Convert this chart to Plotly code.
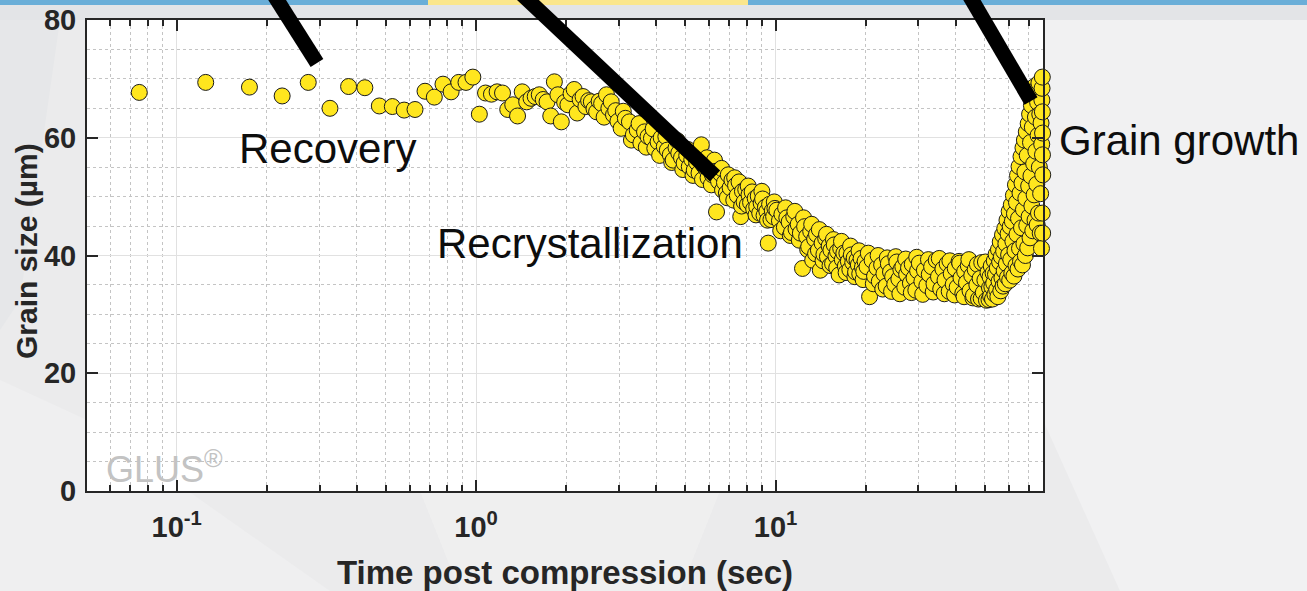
import plotly.graph_objects as go

# ---------------- data ----------------
time_recovery = [0.075, 0.125, 0.175, 0.225, 0.275, 0.325, 0.375, 0.425, 0.475, 0.525,
                 0.575, 0.625, 0.675, 0.725, 0.775, 0.825, 0.875, 0.925, 0.975]
size_recovery = [67.7, 69.4, 68.6, 67.1, 69.4, 65.0, 68.7, 68.5, 65.4, 65.3,
                 64.7, 64.8, 67.9, 66.9, 69.1, 67.8, 69.4, 69.4, 70.3]

time_early = [1.025, 1.075, 1.125, 1.175, 1.225, 1.275, 1.325, 1.375, 1.425, 1.475,
              1.525, 1.575, 1.625, 1.675, 1.725, 1.775, 1.825, 1.875, 1.925, 1.975,
              2.025, 2.075, 2.125, 2.175, 2.225, 2.275, 2.325, 2.375, 2.425, 2.475,
              2.525, 2.575, 2.625, 2.675, 2.725, 2.775, 2.825, 2.875, 2.925, 2.975]
size_early = [64.0, 67.6, 67.4, 67.8, 67.6, 64.8, 65.6, 63.7, 67.8, 66.1,
              66.7, 67.0, 67.3, 66.5, 66.1, 63.7, 69.5, 67.3, 62.7, 66.0,
              65.6, 67.5, 68.2, 64.2, 66.5, 67.0, 65.3, 66.3, 66.1, 64.9,
              64.4, 66.2, 65.8, 63.5, 67.3, 65.0, 66.1, 63.9, 64.6, 62.8]

time_recryst = [3.05, 3.15, 3.25, 3.35, 3.45, 3.55, 3.65, 3.75, 3.85, 3.95,
                4.05, 4.15, 4.25, 4.35, 4.45, 4.55, 4.65, 4.75, 4.85, 4.95,
                5.05, 5.15, 5.25, 5.35, 5.45, 5.55, 5.65, 5.75, 5.85, 5.95,
                6.05, 6.15, 6.25, 6.35, 6.45,
                6.55, 6.65, 6.75, 6.85, 6.95, 7.05, 7.15, 7.25, 7.35, 7.45,
                7.55, 7.65, 7.75, 7.85, 7.95, 8.05, 8.15, 8.25, 8.35, 8.45,
                8.55, 8.65, 8.75, 8.85, 8.95, 9.05, 9.15, 9.25, 9.35, 9.45,
                9.55, 9.65, 9.75, 9.85, 9.95,
                10.1, 10.3, 10.5, 10.7, 10.9, 11.1, 11.3, 11.5, 11.7, 11.9,
                12.1, 12.3, 12.5, 12.7, 12.9, 13.1, 13.3, 13.5, 13.7, 13.9,
                14.1, 14.3, 14.5, 14.7, 14.9, 15.1, 15.3, 15.5, 15.7, 15.9,
                16.1, 16.3, 16.5, 16.7, 16.9, 17.1, 17.3, 17.5, 17.7, 17.9,
                18.1, 18.3, 18.5, 18.7, 18.9, 19.1, 19.3, 19.5, 19.7, 19.9]
size_recryst = [61.6, 63.3, 62.7, 60.5, 61.3, 59.1, 61.0, 60.2, 59.9, 58.2,
                59.3, 60.0, 58.5, 57.9, 57.1, 56.2, 58.3, 57.4, 56.6, 55.7,
                57.0, 55.1, 56.3, 54.5, 55.8, 54.0, 58.8, 55.3, 54.8, 53.2,
                55.0, 53.7, 56.2, 47.4, 52.6,
                53.9, 51.1, 52.4, 50.6, 53.7, 51.5, 52.8, 49.4, 51.9, 50.2,
                52.5, 46.6, 50.9, 49.1, 51.2, 48.6, 50.3, 49.0, 50.8, 47.9,
                49.7, 48.3, 50.1, 47.2, 48.9, 49.6, 46.8, 48.2, 47.5, 42.1,
                48.7, 46.1, 47.6, 46.6, 48.0,
                47.7, 45.9, 47.0, 44.8, 46.4, 45.7, 43.9, 46.6, 44.5, 45.3,
                43.8, 37.8, 44.9, 43.2, 41.5, 44.1, 39.2, 42.8, 43.6, 40.9,
                37.5, 42.1, 40.2, 42.9, 39.8, 41.6, 40.9, 38.6, 41.8, 39.9,
                40.7, 36.7, 41.2, 39.3, 40.4, 38.2, 40.4, 39.0, 37.6, 40.1,
                38.8, 39.6, 37.2, 39.2, 38.4, 36.9, 39.5, 38.0, 37.3, 39.0]

# extra readings along the upper / lower edges of the dense band
time_dense = [3.1, 3.3, 3.5, 3.7, 3.9, 4.1, 4.3, 4.5, 4.7, 4.9, 5.1, 5.3, 5.5, 5.7, 5.9, 6.1, 6.3,
              6.6, 6.9, 7.3, 7.7, 8.1, 8.6, 9.0, 9.4, 9.9, 10.4,
              10.8, 11.2, 11.6, 12.0, 12.4, 12.8, 13.2, 13.6, 14.0, 14.4,
              14.8, 15.2, 15.6, 16.0, 16.6, 17.2, 17.8, 18.4, 19.0, 19.6,
              20.4, 21.2, 22.0, 22.8, 23.6, 24.4, 25.2, 26.0, 27.2, 28.4,
              29.6, 31.0, 32.4, 33.6, 35.2, 36.6, 38.2, 39.6, 41.2, 42.6,
              44.2, 45.6, 47.2, 48.6, 50.2, 51.6]
size_dense = [64.5, 59.6, 62.4, 58.4, 61.5, 57.0, 60.2, 55.8, 59.5, 54.6, 58.0, 53.6, 57.3, 52.9, 56.6, 52.0, 54.3,
              54.8, 49.8, 53.2, 48.4, 51.8, 46.9, 50.9, 46.0, 49.1, 44.2,
              48.1, 43.4, 47.5, 42.6, 46.4, 41.0, 45.3, 40.3, 44.4, 39.1,
              43.6, 38.3, 42.7, 37.9, 42.4, 37.1, 41.6, 36.4, 40.8, 35.9,
              40.4, 35.2, 40.0, 34.3, 39.6, 33.9, 39.8, 33.5, 39.4, 33.7,
              39.7, 33.4, 39.3, 33.8, 39.5, 33.5, 39.1, 33.3, 38.7, 33.0,
              39.3, 32.8, 38.5, 32.7, 38.9, 32.5]

time_plateau = [20.2, 20.6, 21.0, 21.4, 21.8, 22.2, 22.6, 23.0, 23.4, 23.8,
                24.2, 24.6, 25.0, 25.4, 25.8, 26.2, 26.6, 27.0, 27.4, 27.8,
                28.2, 28.6, 29.0, 29.4, 29.8,
                30.2, 30.8, 31.4, 32.0, 32.6, 33.2, 33.8, 34.4, 35.0, 35.6,
                36.2, 36.8, 37.4, 38.0, 38.6, 39.2, 39.8, 40.4, 41.0, 41.6,
                42.2, 42.8, 43.4, 44.0, 44.6, 45.2, 45.8, 46.4, 47.0, 47.6,
                48.2, 48.8, 49.4, 50.0, 50.6, 51.2, 51.8]
size_plateau = [38.1, 33.0, 39.2, 36.5, 37.9, 35.6, 38.4, 36.9, 34.8, 38.6,
                37.2, 36.4, 35.1, 38.9, 36.0, 37.6, 38.1, 34.6, 36.8, 37.9,
                35.3, 38.5, 36.2, 34.1, 37.4,
                38.7, 35.6, 37.5, 34.9, 36.8, 38.1, 35.2, 39.2, 36.4, 34.3,
                37.7, 35.8, 38.6, 33.9, 36.9, 35.1, 37.8, 34.6, 39.0, 36.2,
                33.6, 37.3, 35.4, 38.3, 34.0, 36.6, 33.2, 37.6, 35.0, 32.6,
                36.1, 38.8, 33.7, 35.8, 32.4, 37.1, 34.5]

time_growth = [52.0, 52.25, 52.5, 52.75, 53.0, 53.25, 53.5, 53.75, 54.0, 54.25,
               54.5, 54.75, 55.0, 55.25, 55.5, 55.75, 56.0, 56.25, 56.5, 56.75,
               57.0, 57.25, 57.5, 57.75, 58.0, 58.25, 58.5, 58.75, 59.0, 59.25,
               59.5, 59.75, 60.0, 60.25, 60.5, 60.75, 61.0, 61.25, 61.5, 61.75,
               62.0, 62.25, 62.5, 62.75, 63.0, 63.25, 63.5, 63.75, 64.0, 64.25,
               64.5, 64.75, 65.0, 65.25, 65.5, 65.75, 66.0, 66.25, 66.5, 66.75,
               67.0, 67.25, 67.5, 67.75, 68.0, 68.25, 68.5, 68.75, 69.0, 69.25,
               69.5, 69.75, 70.0, 70.25, 70.5, 70.75, 71.0, 71.25, 71.5, 71.75,
               72.0, 72.25, 72.5, 72.75, 73.0, 73.25, 73.5, 73.75, 74.0, 74.25,
               74.5, 74.75, 75.0, 75.25, 75.5, 75.75, 76.0, 76.25, 76.5, 76.75,
               77.0, 77.25, 77.4, 77.5, 77.6, 77.7, 77.75, 77.8, 77.85, 77.9,
               77.95, 78.0]
size_growth = [36.4, 33.1, 38.2, 34.7, 32.6, 37.0, 35.3, 39.1, 33.4, 36.8,
               40.2, 34.2, 37.9, 33.0, 41.0, 35.6, 38.9, 42.3, 34.0, 39.8,
               36.2, 43.5, 34.8, 40.7, 37.4, 44.6, 35.2, 42.0, 38.6, 46.0,
               36.3, 43.7, 40.1, 47.5, 35.8, 44.9, 39.3, 48.6, 37.0, 45.8,
               42.4, 50.2, 36.5, 47.1, 40.8, 52.0, 38.3, 49.0, 43.6, 53.6,
               37.7, 46.3, 55.1, 41.2, 50.6, 39.0, 56.8, 44.7, 52.3, 38.4,
               58.3, 47.8, 42.0, 59.6, 54.2, 40.0, 49.7, 61.0, 45.1, 57.0,
               41.3, 62.4, 51.8, 46.6, 64.0, 43.0, 59.2, 53.5, 65.5, 48.4,
               61.8, 44.2, 67.3, 55.6, 50.3, 68.7, 46.0, 63.5, 57.7, 68.2,
               52.1, 45.2, 66.0, 60.4, 47.2, 69.3, 55.0, 64.0, 43.8, 50.5,
               62.5, 41.2, 58.9, 66.4, 68.4, 47.2, 70.3, 64.4, 57.1, 60.8,
               43.8, 53.7]

x_tick_vals = [0.1, 1, 10]
x_tick_text = ["10<sup>-1</sup>", "10<sup>0</sup>", "10<sup>1</sup>"]
x_minor_vals = [m * 10 ** e for e in (-2, -1, 0, 1) for m in range(2, 10)]
y_tick_vals = [0, 20, 40, 60, 80]
y_tick_text = ["0", "20", "40", "60", "80"]

phase_labels = ["Recovery", "Recrystallization", "Grain growth"]
x_title = "Time post compression (sec)"
y_title = "Grain size (µm)"
watermark = "GLUS<sup>®</sup>"

# ---------------- layout geometry (pixels) ----------------
W, H = 1307, 591
L, R, T, B = 87, 1043, 20, 491
FONT = "Liberation Sans, Arial, Helvetica, sans-serif"
DARK = "#262626"


def pxx(x):
    return (x - L) / (R - L)


def pxy(y):
    return (B - y) / (B - T)


# combine all readings in time order (drawing order = acquisition order)
pairs = sorted(zip(time_recovery + time_early + time_recryst + time_dense + time_plateau + time_growth,
                   size_recovery + size_early + size_recryst + size_dense + size_plateau + size_growth))
times = [p[0] for p in pairs]
sizes = [p[1] for p in pairs]

fig = go.Figure()
fig.add_trace(go.Scatter(
    x=times, y=sizes, mode="markers", cliponaxis=False,
    marker=dict(size=16, color="#FFE61E", line=dict(color="#1a1a1a", width=1)),
    hoverinfo="skip", showlegend=False,
))

shapes = []


def poly(pts, color):
    path = "M " + " L ".join(f"{pxx(a):.5f},{pxy(b):.5f}" for a, b in pts) + " Z"
    return dict(type="path", path=path, xref="paper", yref="paper",
                fillcolor=color, line=dict(width=0), layer="below")


# faint faceted background
shapes.append(poly([(0, 5), (1307, 5), (1307, 20), (0, 20)], "#e3e4e7"))
shapes.append(poly([(1043, 20), (1307, 20), (1307, 591), (1120, 591), (1043, 420)], "#f1f1f2"))
shapes.append(poly([(0, 380), (87, 420), (330, 591), (0, 591)], "#efeff0"))
shapes.append(poly([(420, 491), (720, 491), (680, 591), (460, 591)], "#efefef"))
shapes.append(poly([(0, 20), (60, 20), (20, 300), (0, 330)], "#e6e7e9"))
# white plotting area
shapes.append(dict(type="rect", xref="paper", yref="paper", x0=0, x1=1, y0=0, y1=1,
                   fillcolor="white", line=dict(width=0), layer="below"))
# top banner strips
shapes.append(dict(type="rect", xref="paper", yref="paper", x0=pxx(0), x1=pxx(1307),
                   y0=pxy(5), y1=pxy(-2), fillcolor="#6aaed8", line=dict(width=0), layer="above"))
shapes.append(dict(type="rect", xref="paper", yref="paper", x0=pxx(428), x1=pxx(748),
                   y0=pxy(5), y1=pxy(-2), fillcolor="#fbe68c", line=dict(width=0), layer="above"))
# thick black pointer lines
for (xa, ya), (xb, yb) in [((267.6, -15), (317, 63)),
                           ((512, -15), (715, 176)),
                           ((963.2, -15), (1031, 101))]:
    shapes.append(dict(type="line", xref="paper", yref="paper",
                       x0=pxx(xa), y0=pxy(ya), x1=pxx(xb), y1=pxy(yb),
                       line=dict(color="black", width=15), layer="above"))

annotations = []
for text, (cx, cy) in zip(phase_labels, [(327.5, 148), (589.5, 243), (1179, 140)]):
    annotations.append(dict(text=text, x=pxx(cx), y=pxy(cy), xref="paper", yref="paper",
                            xanchor="center", yanchor="middle", showarrow=False,
                            font=dict(family=FONT, size=42, color="#0d0d0d")))
annotations.append(dict(text=watermark, x=pxx(104), y=pxy(467), xref="paper", yref="paper",
                        xanchor="left", yanchor="middle", showarrow=False,
                        font=dict(family=FONT, size=36, color="#c3c3c3")))
annotations.append(dict(text=x_title, x=pxx(565), y=pxy(572), xref="paper", yref="paper",
                        xanchor="center", yanchor="middle", showarrow=False,
                        font=dict(family=FONT, size=33, color=DARK, weight="bold")))
annotations.append(dict(text=y_title, x=pxx(26), y=pxy(251), xref="paper", yref="paper",
                        xanchor="center", yanchor="middle", showarrow=False, textangle=-90,
                        font=dict(family=FONT, size=30, color=DARK, weight="bold")))

axis_common = dict(
    showline=True, linecolor=DARK, linewidth=2, mirror="ticks",
    ticks="inside", ticklen=11, tickwidth=1.5, tickcolor=DARK,
    showgrid=True, gridcolor="#e1e1e1", gridwidth=1, zeroline=False,
    automargin=False,
    tickfont=dict(family=FONT, size=29, color=DARK, weight="bold"),
)

fig.update_layout(
    width=W, height=H,
    margin=dict(l=L, r=W - R, t=T, b=H - B, pad=0, autoexpand=False),
    paper_bgcolor="#ebebec", plot_bgcolor="rgba(0,0,0,0)",
    xaxis=dict(type="log", range=[-1.2995, 1.893], tickmode="array",
               tickvals=x_tick_vals, ticktext=x_tick_text, ticklabelstandoff=9,
               minor=dict(tickmode="array", tickvals=x_minor_vals, ticks="inside", ticklen=6,
                          tickwidth=1.5, tickcolor=DARK, showgrid=True,
                          gridcolor="#c4c4c4", griddash="dot", gridwidth=1),
               **axis_common),
    yaxis=dict(range=[0, 80], tickmode="array", tickvals=y_tick_vals, ticktext=y_tick_text,
               ticklabelstandoff=3,
               minor=dict(dtick=5, ticks="", showgrid=True,
                          gridcolor="#c4c4c4", griddash="dot", gridwidth=1),
               **axis_common),
    shapes=shapes, annotations=annotations,
    showlegend=False,
)

fig.write_html("out.html")
